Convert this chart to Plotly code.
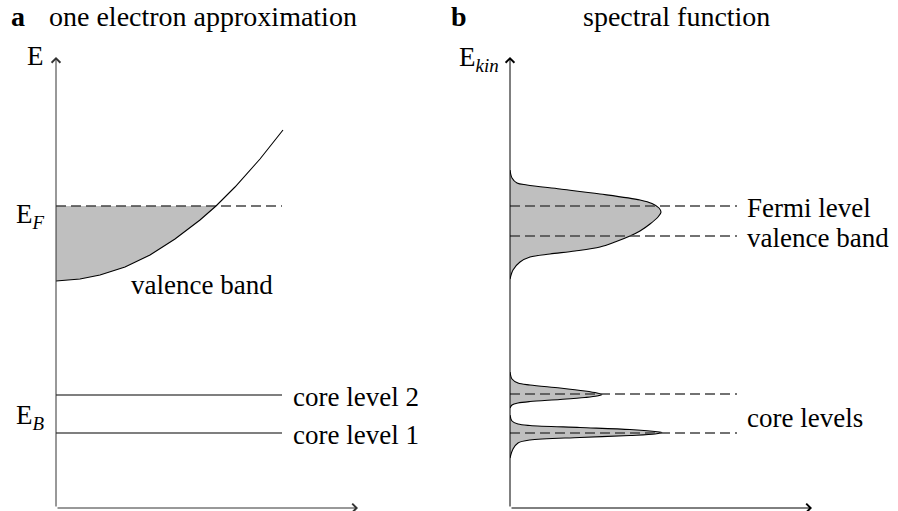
import plotly.graph_objects as go

# ---------------- data ----------------
# (a) one-electron picture: free-electron-like valence band E(k)
band_k = [0, 2.4, 4.4, 6.9, 9.4, 11.9, 14.4, 16.0, 17.9, 20.4, 22.7]
band_E = [22.7, 22.9, 23.3, 24.1, 25.3, 26.9, 28.8, 30.2, 32.1, 34.9, 37.8]
fermi_E = 30.2
core_names_a = ["core level 2", "core level 1"]
core_E_a = [11.3, 7.5]
level_len = 22.6

# (b) spectral function: outlines of the valence and core peaks
valence_I = [0, 0.2, 0.7, 1.7, 5.0, 9.0, 13.0, 14.2, 14.9, 15.1, 14.8, 14.0, 13.0,
             12.0, 10.5, 9.0, 6.5, 4.0, 2.0, 1.0, 0.3, 0]
valence_E = [33.8, 33.0, 32.5, 32.3, 31.9, 31.4, 30.8, 30.45, 30.0, 29.6, 29.1, 28.4,
             27.7, 27.2, 26.6, 26.1, 25.7, 25.4, 25.1, 24.6, 23.8, 22.9]
core2_I = [0, 0.2, 0.8, 2.0, 5.0, 7.5, 8.7, 9.2, 8.7, 7.5, 5.0, 2.0, 0.8, 0.2, 0]
core2_E = [13.6, 12.9, 12.5, 12.3, 12.0, 11.7, 11.5, 11.35, 11.2, 11.05, 10.85,
           10.65, 10.5, 10.3, 10.0]
core1_I = [0, 0.2, 0.8, 2.0, 7.0, 12.0, 14.5, 15.2, 14.5, 12.0, 7.0, 2.0, 0.8, 0.3, 0]
core1_E = [9.3, 8.7, 8.4, 8.25, 8.05, 7.85, 7.65, 7.55, 7.4, 7.25, 7.05, 6.8, 6.5,
           5.9, 5.0]
ref_names_b = ["Fermi level", "valence band"]
ref_E_b = [30.2, 27.2]
core_ref_E_b = [11.4, 7.5]
dash_len = 22.7

X_MAX, Y_MAX = 30.2, 45.1

# ---------------- styling ----------------
W, H = 898, 511
FONT = "Liberation Serif, DejaVu Serif, serif"
FS = 27
FS_TITLE = 28
GREY_FILL = "#bfbfbf"
DASH = dict(color="#444444", width=1.3, dash="10px,5px")


def px_x(p):
    return p / W


def px_y(p):
    return 1 - p / H


fig = go.Figure()

# ----- panel (a) -----
fill_k = band_k[:band_E.index(fermi_E) + 1] + [0]
fill_E = band_E[:band_E.index(fermi_E) + 1] + [fermi_E]
fig.add_trace(go.Scatter(x=fill_k, y=fill_E, fill="toself", fillcolor=GREY_FILL,
                         mode="lines", line=dict(width=0), xaxis="x", yaxis="y"))
fig.add_trace(go.Scatter(x=[0, level_len], y=[fermi_E, fermi_E], mode="lines",
                         line=DASH, xaxis="x", yaxis="y"))
fig.add_trace(go.Scatter(x=band_k, y=band_E, mode="lines",
                         line=dict(color="black", width=1.1), xaxis="x", yaxis="y"))
for e in core_E_a:
    fig.add_trace(go.Scatter(x=[0, level_len], y=[e, e], mode="lines",
                             line=dict(color="#555555", width=1.4),
                             xaxis="x", yaxis="y"))

# ----- panel (b) -----
for I, E in [(valence_I, valence_E), (core2_I, core2_E), (core1_I, core1_E)]:
    fig.add_trace(go.Scatter(x=I, y=E, fill="toself", fillcolor=GREY_FILL,
                             mode="lines", line=dict(color="black", width=1.1,
                                                     shape="spline", smoothing=0.9),
                             xaxis="x2", yaxis="y2"))
for e in ref_E_b + core_ref_E_b:
    fig.add_trace(go.Scatter(x=[0, dash_len], y=[e, e], mode="lines", line=DASH,
                             xaxis="x2", yaxis="y2"))

ax_common = dict(range=[0, X_MAX], visible=False, fixedrange=True)
ay_common = dict(range=[0, Y_MAX], visible=False, fixedrange=True)
dom_y = [px_y(508), px_y(57)]

annotations = []

# axis arrows
for xr, yr, col in [("x", "y", "#333333"), ("x2", "y2", "black")]:
    annotations.append(dict(x=0, y=Y_MAX, ax=0, ay=0, xref=xr, yref=yr, axref=xr,
                            ayref=yr, showarrow=True, arrowhead=4, arrowsize=1.7,
                            arrowwidth=1, arrowcolor=col, text="", standoff=0))
    annotations.append(dict(x=X_MAX, y=0, ax=0, ay=0, xref=xr, yref=yr, axref=xr,
                            ayref=yr, showarrow=True, arrowhead=4, arrowsize=1.7,
                            arrowwidth=1, arrowcolor=col, text="", standoff=0))


def label(text, x, y, xref, yref, xanchor="left", yshift=0, size=FS):
    annotations.append(dict(text=text, x=x, y=y, xref=xref, yref=yref,
                            xanchor=xanchor, yanchor="middle", showarrow=False,
                            yshift=yshift, font=dict(family=FONT, size=size,
                                                     color="black")))


# titles
label("<b>a</b>", px_x(9), px_y(17), "paper", "paper", size=FS_TITLE)
label("one electron approximation", px_x(47), px_y(17), "paper", "paper",
      size=FS_TITLE)
label("<b>b</b>", px_x(449), px_y(17), "paper", "paper", size=FS_TITLE)
label("spectral function", px_x(581), px_y(17), "paper", "paper", size=FS_TITLE)

# energy-axis labels
label("E", px_x(46), px_y(56), "paper", "paper", xanchor="right")
label("E<sub><i>F</i></sub>", px_x(47), px_y(216), "paper", "paper", xanchor="right")
label("E<sub><i>B</i></sub>", px_x(47), px_y(417), "paper", "paper", xanchor="right")
label("E<sub><i>kin</i></sub>", px_x(501), px_y(59), "paper", "paper", xanchor="right")

# level labels, panel a
label("valence band", 7.3, band_E[0] - 0.2, "x", "y", yshift=-2)
for name, e in zip(core_names_a, core_E_a):
    label(name, level_len + 0.9, e, "x", "y", yshift=-2)

# level labels, panel b
for name, e in zip(ref_names_b, ref_E_b):
    label(name, dash_len + 0.8, e, "x2", "y2", yshift=-2)
label("core levels", dash_len + 0.8, sum(core_ref_E_b) / 2 - 0.2, "x2", "y2", yshift=-2)

fig.update_layout(
    width=W, height=H,
    margin=dict(l=0, r=0, t=0, b=0),
    paper_bgcolor="white", plot_bgcolor="white",
    showlegend=False,
    xaxis=dict(domain=[px_x(56), px_x(358)], **ax_common),
    yaxis=dict(domain=dom_y, **ay_common),
    xaxis2=dict(domain=[px_x(510), px_x(812)], **ax_common),
    yaxis2=dict(domain=dom_y, anchor="x2", **ay_common),
    annotations=annotations,
)

fig.write_html("out.html")
